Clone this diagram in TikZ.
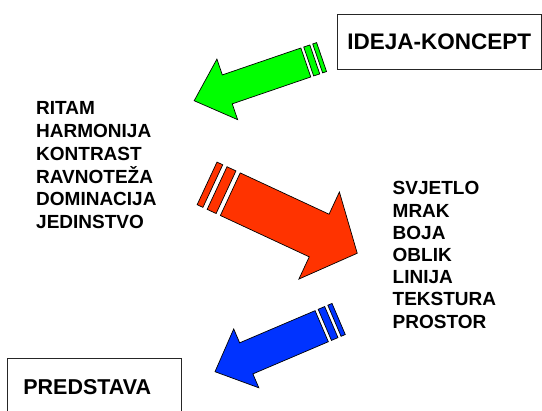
\documentclass[tikz,border=0pt]{standalone}
\usepackage{fontspec}
\setmainfont{Liberation Sans}
\definecolor{arrowgreen}{RGB}{0,255,0}
\definecolor{arrowred}{RGB}{255,51,0}
\definecolor{arrowblue}{RGB}{0,51,255}
\tikzset{
  pics/striparrow/.style args={#1/#2/#3/#4}{code={
    % shaft and head
    \filldraw[draw=black, line width=0.7pt]
      (0,-#3) -- ({#1-#2},-#3) -- ({#1-#2},-#4) -- (#1,0)
      -- ({#1-#2},#4) -- ({#1-#2},#3) -- (0,#3) -- cycle;
    % two stripes at the tail
    \filldraw[draw=black, line width=0.7pt] ({-0.2*#3},-#3) rectangle ({-0.62*#3},#3);
    \filldraw[draw=black, line width=0.7pt] ({-0.82*#3},-#3) rectangle ({-1.09*#3},#3);
  }},
  box/.style={draw=black!85, line width=0.9pt},
  listtext/.style={anchor=base west, inner sep=0, font=\fontsize{19}{22}\selectfont\bfseries}
}
\begin{document}
\begin{tikzpicture}[x=1pt, y=-1pt]
\clip (0,0) rectangle (542,411);
\fill[white] (0,0) rectangle (542,411);
% boxes
\node[box, minimum width=203.5pt, minimum height=55pt, font=\fontsize{22.5}{27}\selectfont\bfseries] (idea) at (439.25,41.5) {IDEJA-KONCEPT};
\node[box, minimum width=174.7pt, minimum height=57.8pt, text width=142.1pt, inner xsep=16.3pt, align=left, font=\fontsize{21.5}{26}\selectfont\bfseries] (show) at (94.35,387.2) {PREDSTAVA};
% arrows
\pic[rotate=198.9, fill=arrowgreen] (green) at (305.8,62.5) {striparrow={118/35/15.3/32}};
\pic[rotate=-24.95, fill=arrowred] (red) at (230.3,194.2) {striparrow={140/42/23.5/48}};
\pic[rotate=203.1, fill=arrowblue] (blue) at (321.7,326.2) {striparrow={116/34/16.9/32}};
% lists
\foreach \w [count=\i] in {RITAM,HARMONIJA,KONTRAST,RAVNOTEŽA,DOMINACIJA,JEDINSTVO}
  \node[listtext] (princ\i) at (36,{115+22.7*(\i-1)}) {\w};
\foreach \w [count=\i] in {SVJETLO,MRAK,BOJA,OBLIK,LINIJA,TEKSTURA,PROSTOR}
  \node[listtext] (elem\i) at (392.5,{195+22.2*(\i-1)}) {\w};
\end{tikzpicture}
\end{document}
